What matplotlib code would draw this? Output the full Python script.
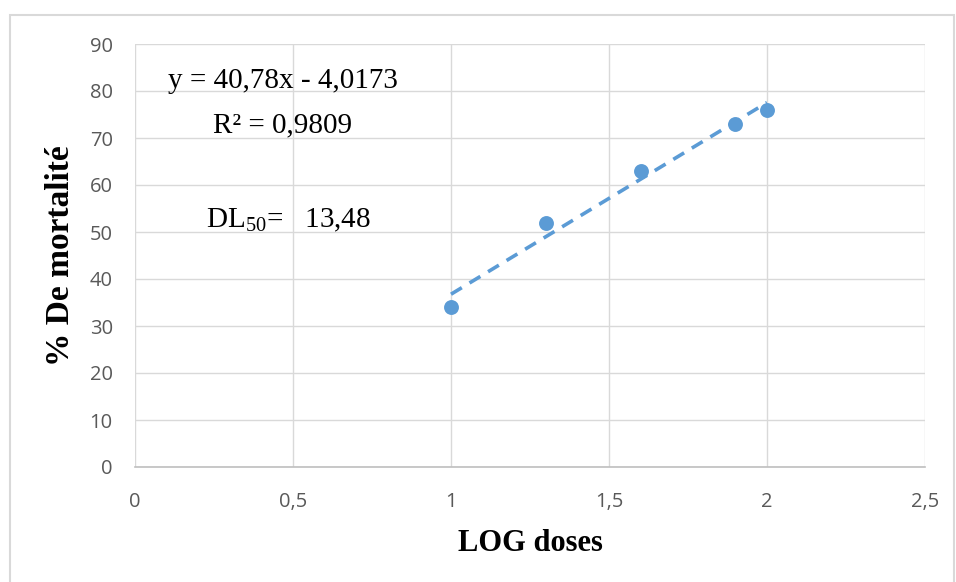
import matplotlib
matplotlib.use("Agg")
import matplotlib.pyplot as plt
from matplotlib.patches import Rectangle
import numpy as np

log_doses = [1.0, 1.3, 1.6, 1.9, 2.0]
mortality = [34, 52, 63, 73, 76]
slope, intercept = 40.78, -4.0173
x_ticks = [0, 0.5, 1, 1.5, 2, 2.5]
x_tick_labels = ["0", "0,5", "1", "1,5", "2", "2,5"]
y_ticks = list(range(0, 91, 10))

plt.rcParams['mathtext.fontset'] = 'custom'
plt.rcParams['mathtext.rm'] = 'Liberation Serif'

fig = plt.figure(figsize=(9.56, 5.82), dpi=100)
ax = fig.add_axes([135/956, 1-467/582, 790/956, 423/582])

fig.patches.append(Rectangle((10/956, -0.01), 944/956, 1-15/582+0.01, transform=fig.transFigure,
                             fill=False, edgecolor='#D9D9D9', linewidth=1.5))

color = '#5B9BD5'
ax.scatter(log_doses, mortality, s=115, color=color, zorder=3, linewidths=0)
xs = np.array([min(log_doses), max(log_doses)])
ax.plot(xs, slope*xs + intercept, linestyle=(0, (3.5, 2.5)), color=color, linewidth=2.6, zorder=2)

ax.set_xlim(0, 2.5)
ax.set_ylim(0, 90)
ax.set_xticks(x_ticks)
ax.set_xticklabels(x_tick_labels)
ax.set_yticks(y_ticks)
ax.grid(True, color='#D9D9D9', linewidth=1)
ax.set_axisbelow(True)
for s in ['top', 'right', 'left']:
    ax.spines[s].set_visible(False)
ax.spines['bottom'].set_color('#BFBFBF')
ax.spines['bottom'].set_linewidth(1.2)
ax.tick_params(length=0, labelsize=14.5, labelcolor='#595959')
ax.tick_params(axis='x', pad=18)
ax.tick_params(axis='y', pad=16)
for lab in ax.get_xticklabels() + ax.get_yticklabels():
    lab.set_family('Open Sans')

ax.set_xlabel('LOG doses', family='Liberation Serif', fontweight='bold', fontsize=22, labelpad=12)
ax.set_ylabel('% De mortalité', family='Liberation Serif', fontweight='bold', fontsize=24, labelpad=10)

ax.text(0.468, 80.64, 'y = 40,78x - 4,0173', family='Liberation Serif', fontsize=21, ha='center', va='baseline')
ax.text(0.468, 71.28, 'R² = 0,9809', family='Liberation Serif', fontsize=21, ha='center', va='baseline')
ax.text(0.2247, 51.06, 'DL$_{50}$=   13,48', family='Liberation Serif', fontsize=21, ha='left', va='baseline')

fig.savefig('out.png', dpi=100)
